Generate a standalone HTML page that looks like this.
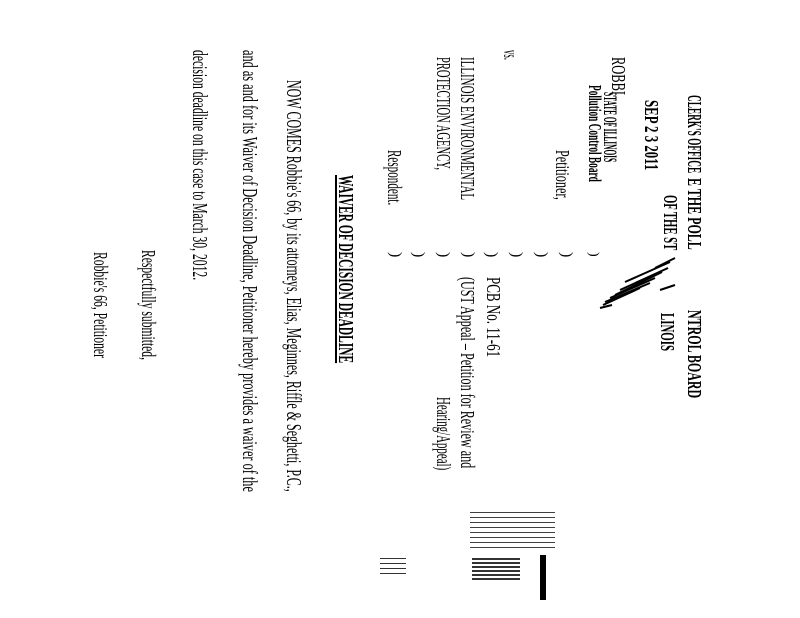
<!DOCTYPE html>
<html><head><meta charset="utf-8"><style>
html,body{margin:0;padding:0;background:#fff;}
body{width:800px;height:618px;position:relative;overflow:hidden;font-family:"Liberation Serif",serif;color:#000;}
.r{position:absolute;white-space:nowrap;line-height:1;transform-origin:0 0;font-size:20px;}
.b{font-weight:bold;}
.n{position:absolute;background:#000;}
</style></head><body>

<div class="r b" data-w="78" style="left:704px;top:95px;font-size:20px">CLERK'S OFFICE</div>
<div class="r b" data-w="72" style="left:704px;top:178px;font-size:20px">E THE POLL</div>
<div class="r b" data-w="88" style="left:704px;top:310px;font-size:20px">NTROL BOARD</div>
<div class="r b" data-w="55" style="left:680px;top:195px;font-size:20px">OF THE ST</div>
<div class="r b" data-w="38" style="left:677px;top:313px;font-size:20px">LINOIS</div>
<div class="r b" data-w="70" style="left:661px;top:100px;font-size:20px">SEP 2 3 2011</div>
<div class="r" data-w="38" style="left:628px;top:57px;">ROBBI</div>
<div class="r b" data-w="70" style="left:619px;top:92px;font-size:19px">STATE OF ILLINOIS</div>
<div class="r b" data-w="97" style="left:604px;top:85px;font-size:18px">Pollution Control Board</div>
<div class="r" data-w="50" style="left:572px;top:150px;">Petitioner,</div>
<div class="r" data-w="10" style="left:520px;top:50px;">vs.</div>
<div class="r" data-w="143" style="left:477px;top:57px;">ILLINOIS ENVIRONMENTAL</div>
<div class="r" data-w="113" style="left:453px;top:57px;">PROTECTION AGENCY,</div>
<div class="r" data-w="55" style="left:404px;top:150px;">Respondent.</div>

<div class="r" data-w="80" style="left:503px;top:277px;">PCB No. 11-61</div>
<div class="r" data-w="191" style="left:477px;top:277px;">(UST Appeal – Petition for Review and</div>
<div class="r" data-w="73" style="left:453px;top:397px;">Hearing/Appeal)</div>

<div class="r b" data-w="188" style="left:356px;top:175px;font-size:21px;text-decoration:underline">WAIVER OF DECISION DEADLINE</div>

<div class="r" data-w="412" style="left:304px;top:80px;font-size:21px">NOW COMES Robbie's 66, by its attorneys, Elias, Meginnes, Riffle &amp; Seghetti, P.C.,</div>
<div class="r" data-w="442" style="left:260px;top:50px;font-size:21px">and as and for its Waiver of Decision Deadline, Petitioner hereby provides a waiver of the</div>
<div class="r" data-w="230" style="left:210px;top:50px;font-size:21px">decision deadline on this case to March 30, 2012.</div>
<div class="r" data-w="110" style="left:158px;top:250px;">Respectfully submitted,</div>
<div class="r" data-w="106" style="left:110px;top:252px;">Robbie's 66, Petitioner</div>

<!-- parens -->
<div class="r" style="left:600px;top:252px;font-size:14px">)</div>
<div class="r" style="left:574px;top:252px;font-size:16px">)</div>
<div class="r" style="left:549px;top:252px;font-size:16px">)</div>
<div class="r" style="left:524px;top:252px;font-size:16px">)</div>
<div class="r" style="left:499px;top:252px;font-size:16px">)</div>
<div class="r" style="left:476px;top:252px;font-size:16px">)</div>
<div class="r" style="left:451px;top:252px;font-size:16px">)</div>
<div class="r" style="left:426px;top:252px;font-size:16px">)</div>
<div class="r" style="left:403px;top:252px;font-size:16px">)</div>

<!-- signature scribble -->
<svg style="position:absolute;left:0;top:0" width="800" height="618">
<g stroke="#000" stroke-width="2" fill="none">
<line x1="675" y1="258" x2="655" y2="268"/>
<line x1="670" y1="262" x2="625" y2="282"/>
<line x1="668" y1="268" x2="620" y2="290"/>
<line x1="662" y1="272" x2="615" y2="295"/>
<line x1="655" y1="278" x2="610" y2="298"/>
<line x1="650" y1="283" x2="605" y2="302"/>
<line x1="640" y1="288" x2="603" y2="305"/>
<line x1="675" y1="285" x2="660" y2="290"/>
<line x1="612" y1="305" x2="600" y2="308"/>
</g></svg>

<!-- scan noise -->
<div class="n" style="left:470px;top:512px;width:85px;height:40px;background:repeating-linear-gradient(180deg,#000 0 1px,transparent 1px 5px);opacity:.75"></div>
<div class="n" style="left:472px;top:558px;width:48px;height:24px;background:repeating-linear-gradient(180deg,#000 0 2px,transparent 2px 4px);opacity:.8"></div>
<div class="n" style="left:380px;top:558px;width:26px;height:18px;background:repeating-linear-gradient(180deg,#000 0 1px,transparent 1px 5px);opacity:.8"></div>
<div class="n" style="left:540px;top:555px;width:6px;height:45px"></div>

<script>
document.querySelectorAll('.r').forEach(function(e){
  var w=parseFloat(e.getAttribute('data-w'));
  var k=w?w/e.offsetWidth:1;
  e.style.transform='rotate(90deg) scaleX('+k+')';
});
</script>
</body></html>
